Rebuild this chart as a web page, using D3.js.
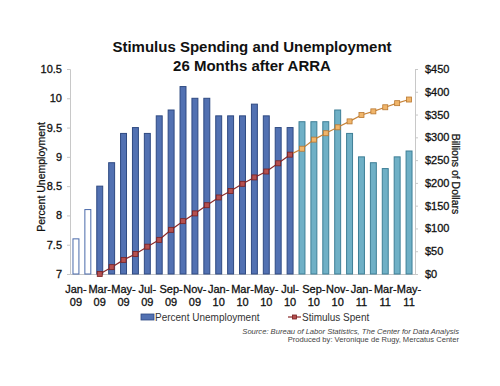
<!DOCTYPE html>
<html>
<head>
<meta charset="utf-8">
<script src="https://cdn.jsdelivr.net/npm/d3@7"></script>
<style>
  body { margin: 0; background: #fff; }
  svg { font-family: "Liberation Sans", Arial, sans-serif; }
</style>
</head>
<body>
<svg id="chart" width="500" height="386"></svg>
<script>
    const months = ['Jan-09','Feb-09','Mar-09','Apr-09','May-09','Jun-09','Jul-09','Aug-09','Sep-09','Oct-09','Nov-09','Dec-09',
        'Jan-10','Feb-10','Mar-10','Apr-10','May-10','Jun-10','Jul-10','Aug-10','Sep-10','Oct-10','Nov-10','Dec-10',
        'Jan-11','Feb-11','Mar-11','Apr-11','May-11'];
    const unemployment = [7.6,8.1,8.5,8.9,9.4,9.5,9.4,9.7,9.8,10.2,10.0,10.0,9.7,9.7,9.7,9.9,9.7,9.5,9.5,9.6,9.6,9.6,9.8,9.4,9.0,8.9,8.8,9.0,9.1];
    // phase of each bar: before ARRA, first part, later part
    const barPhase = ['pre','pre','a','a','a','a','a','a','a','a','a','a','a','a','a','a','a','a','a','b','b','b','b','b','b','b','b','b','b'];
    const spentMonths = months.slice(2);
    const spent = [0,15,31,44,60,75,97,116,133,151,168,182,198,212,225,243,262,275,295,309,322,335,349,357,366,375,383];
    const leftTicks = [7,7.5,8,8.5,9,9.5,10,10.5];
    const rightTicks = [0,50,100,150,200,250,300,350,400,450];

    const svg = d3.select('#chart');
    const margin = {top: 69, left: 70, right: 85, bottom: 112};
    const width = 500 - margin.left - margin.right;
    const height = 386 - margin.top - margin.bottom;
    const g = svg.append('g').attr('transform', `translate(${margin.left}, ${margin.top})`);

    const x = d3.scaleBand().domain(months).range([0, width]).paddingInner(0.5).paddingOuter(0.25);
    const yL = d3.scaleLinear().domain([7, 10.5]).range([height, 0]);
    const yR = d3.scaleLinear().domain([0, 450]).range([height, 0]);

    const fills = {pre: '#ffffff', a: '#5271b2', b: '#6fb0c6'};
    const strokes = {pre: '#4a6aaa', a: '#2f4a82', b: '#3e7f96'};

    // axes
    const axL = g.append('g').call(d3.axisLeft(yL).tickValues(leftTicks).tickSize(3).tickPadding(5).tickFormat(d3.format('')));
    const axR = g.append('g').attr('transform', `translate(${width},0)`)
        .call(d3.axisRight(yR).tickValues(rightTicks).tickSize(3).tickPadding(7).tickFormat(d => '$' + d));
    const axB = g.append('g').attr('transform', `translate(0,${height})`)
        .call(d3.axisBottom(x).tickValues([]).tickSize(0));
    [axL, axR, axB].forEach(a => {
        a.selectAll('path, line').attr('stroke', '#c8c8c8');
        a.selectAll('text').attr('fill', '#111').attr('stroke', '#111').attr('stroke-width', 0.3)
            .style('font-size', '11px');
    });

    // bars
    g.selectAll('.bar').data(months).join('rect')
        .attr('class', 'bar')
        .attr('x', d => x(d))
        .attr('y', (d, i) => yL(unemployment[i]))
        .attr('width', x.bandwidth())
        .attr('height', (d, i) => yL(7) - yL(unemployment[i]))
        .attr('fill', (d, i) => fills[barPhase[i]])
        .attr('stroke', (d, i) => strokes[barPhase[i]])
        .attr('stroke-width', 1);

    // x labels, every second month, two lines
    const xl = g.append('g').selectAll('text').data(months.filter((d, i) => i % 2 === 0)).join('text')
        .attr('x', d => x(d) + x.bandwidth() / 2)
        .attr('y', height + 19)
        .attr('text-anchor', 'middle')
        .attr('fill', '#111').attr('stroke', '#111').attr('stroke-width', 0.3)
        .style('font-size', '11px');
    xl.append('tspan').attr('x', d => x(d) + x.bandwidth() / 2).text(d => d.split('-')[0] + '-');
    xl.append('tspan').attr('x', d => x(d) + x.bandwidth() / 2).attr('dy', 13).text(d => d.split('-')[1]);

    // stimulus line: red until Jul-10, orange after
    const cx = d => x(d) + x.bandwidth() / 2;
    const splitIdx = spentMonths.indexOf('Jul-10');
    const line = d3.line().x(d => cx(d[0])).y(d => yR(d[1]));
    const pts = spentMonths.map((m, i) => [m, spent[i]]);
    g.append('path').datum(pts.slice(0, splitIdx + 1)).attr('d', line)
        .attr('fill', 'none').attr('stroke', '#8a2a2a').attr('stroke-width', 1.2);
    g.append('path').datum(pts.slice(splitIdx)).attr('d', line)
        .attr('fill', 'none').attr('stroke', '#c7843a').attr('stroke-width', 1.2);
    g.selectAll('.mk').data(pts).join('rect')
        .attr('class', 'mk')
        .attr('x', d => cx(d[0]) - 2.5)
        .attr('y', d => yR(d[1]) - 2.5)
        .attr('width', 5).attr('height', 5)
        .attr('fill', (d, i) => i <= splitIdx ? '#b45050' : '#f0b56a')
        .attr('stroke', (d, i) => i <= splitIdx ? '#7a2020' : '#b87730')
        .attr('stroke-width', 0.8);

    // axis titles
    svg.append('text')
        .attr('transform', 'translate(45,177) rotate(-90)')
        .attr('text-anchor', 'middle')
        .style('font-size', '10.5px').attr('fill', '#111').attr('stroke', '#111').attr('stroke-width', 0.25)
        .text('Percent Unemployment');
    svg.append('text')
        .attr('transform', 'translate(452,174) rotate(90)')
        .attr('text-anchor', 'middle')
        .style('font-size', '10.5px').attr('fill', '#111').attr('stroke', '#111').attr('stroke-width', 0.25)
        .text('Billions of Dollars');

    // title
    svg.append('text').attr('x', 252).attr('y', 52).attr('text-anchor', 'middle')
        .style('font-size', '15px').style('font-weight', 'bold').attr('fill', '#111')
        .text('Stimulus Spending and Unemployment');
    svg.append('text').attr('x', 252).attr('y', 71).attr('text-anchor', 'middle')
        .style('font-size', '15px').style('font-weight', 'bold').attr('fill', '#111')
        .text('26 Months after ARRA');

    // legend
    const lg = svg.append('g').attr('transform', 'translate(0,317)');
    lg.append('rect').attr('x', 141).attr('y', -3).attr('width', 13).attr('height', 6)
        .attr('fill', fills.a).attr('stroke', strokes.a).attr('stroke-width', 0.8);
    lg.append('text').attr('x', 155).attr('y', 3.8).style('font-size', '10px').attr('fill', '#333')
        .text('Percent Unemployment');
    lg.append('line').attr('x1', 288).attr('x2', 301).attr('y1', 0).attr('y2', 0)
        .attr('stroke', '#8a2a2a').attr('stroke-width', 1.2);
    lg.append('rect').attr('x', 292.5).attr('y', -2).attr('width', 4).attr('height', 4)
        .attr('fill', '#b45050').attr('stroke', '#7a2020').attr('stroke-width', 0.8);
    lg.append('text').attr('x', 302).attr('y', 3.8).style('font-size', '10px').attr('fill', '#333')
        .text('Stimulus Spent');

    // source
    svg.append('text').attr('x', 459).attr('y', 333.5).attr('text-anchor', 'end')
        .style('font-size', '7.6px').style('font-style', 'italic').attr('fill', '#444')
        .text('Source: Bureau of Labor Statistics, The Center for Data Analysis');
    svg.append('text').attr('x', 459).attr('y', 342).attr('text-anchor', 'end')
        .style('font-size', '7.6px').attr('fill', '#444')
        .text('Produced by: Veronique de Rugy, Mercatus Center');
</script>
</body>
</html>
